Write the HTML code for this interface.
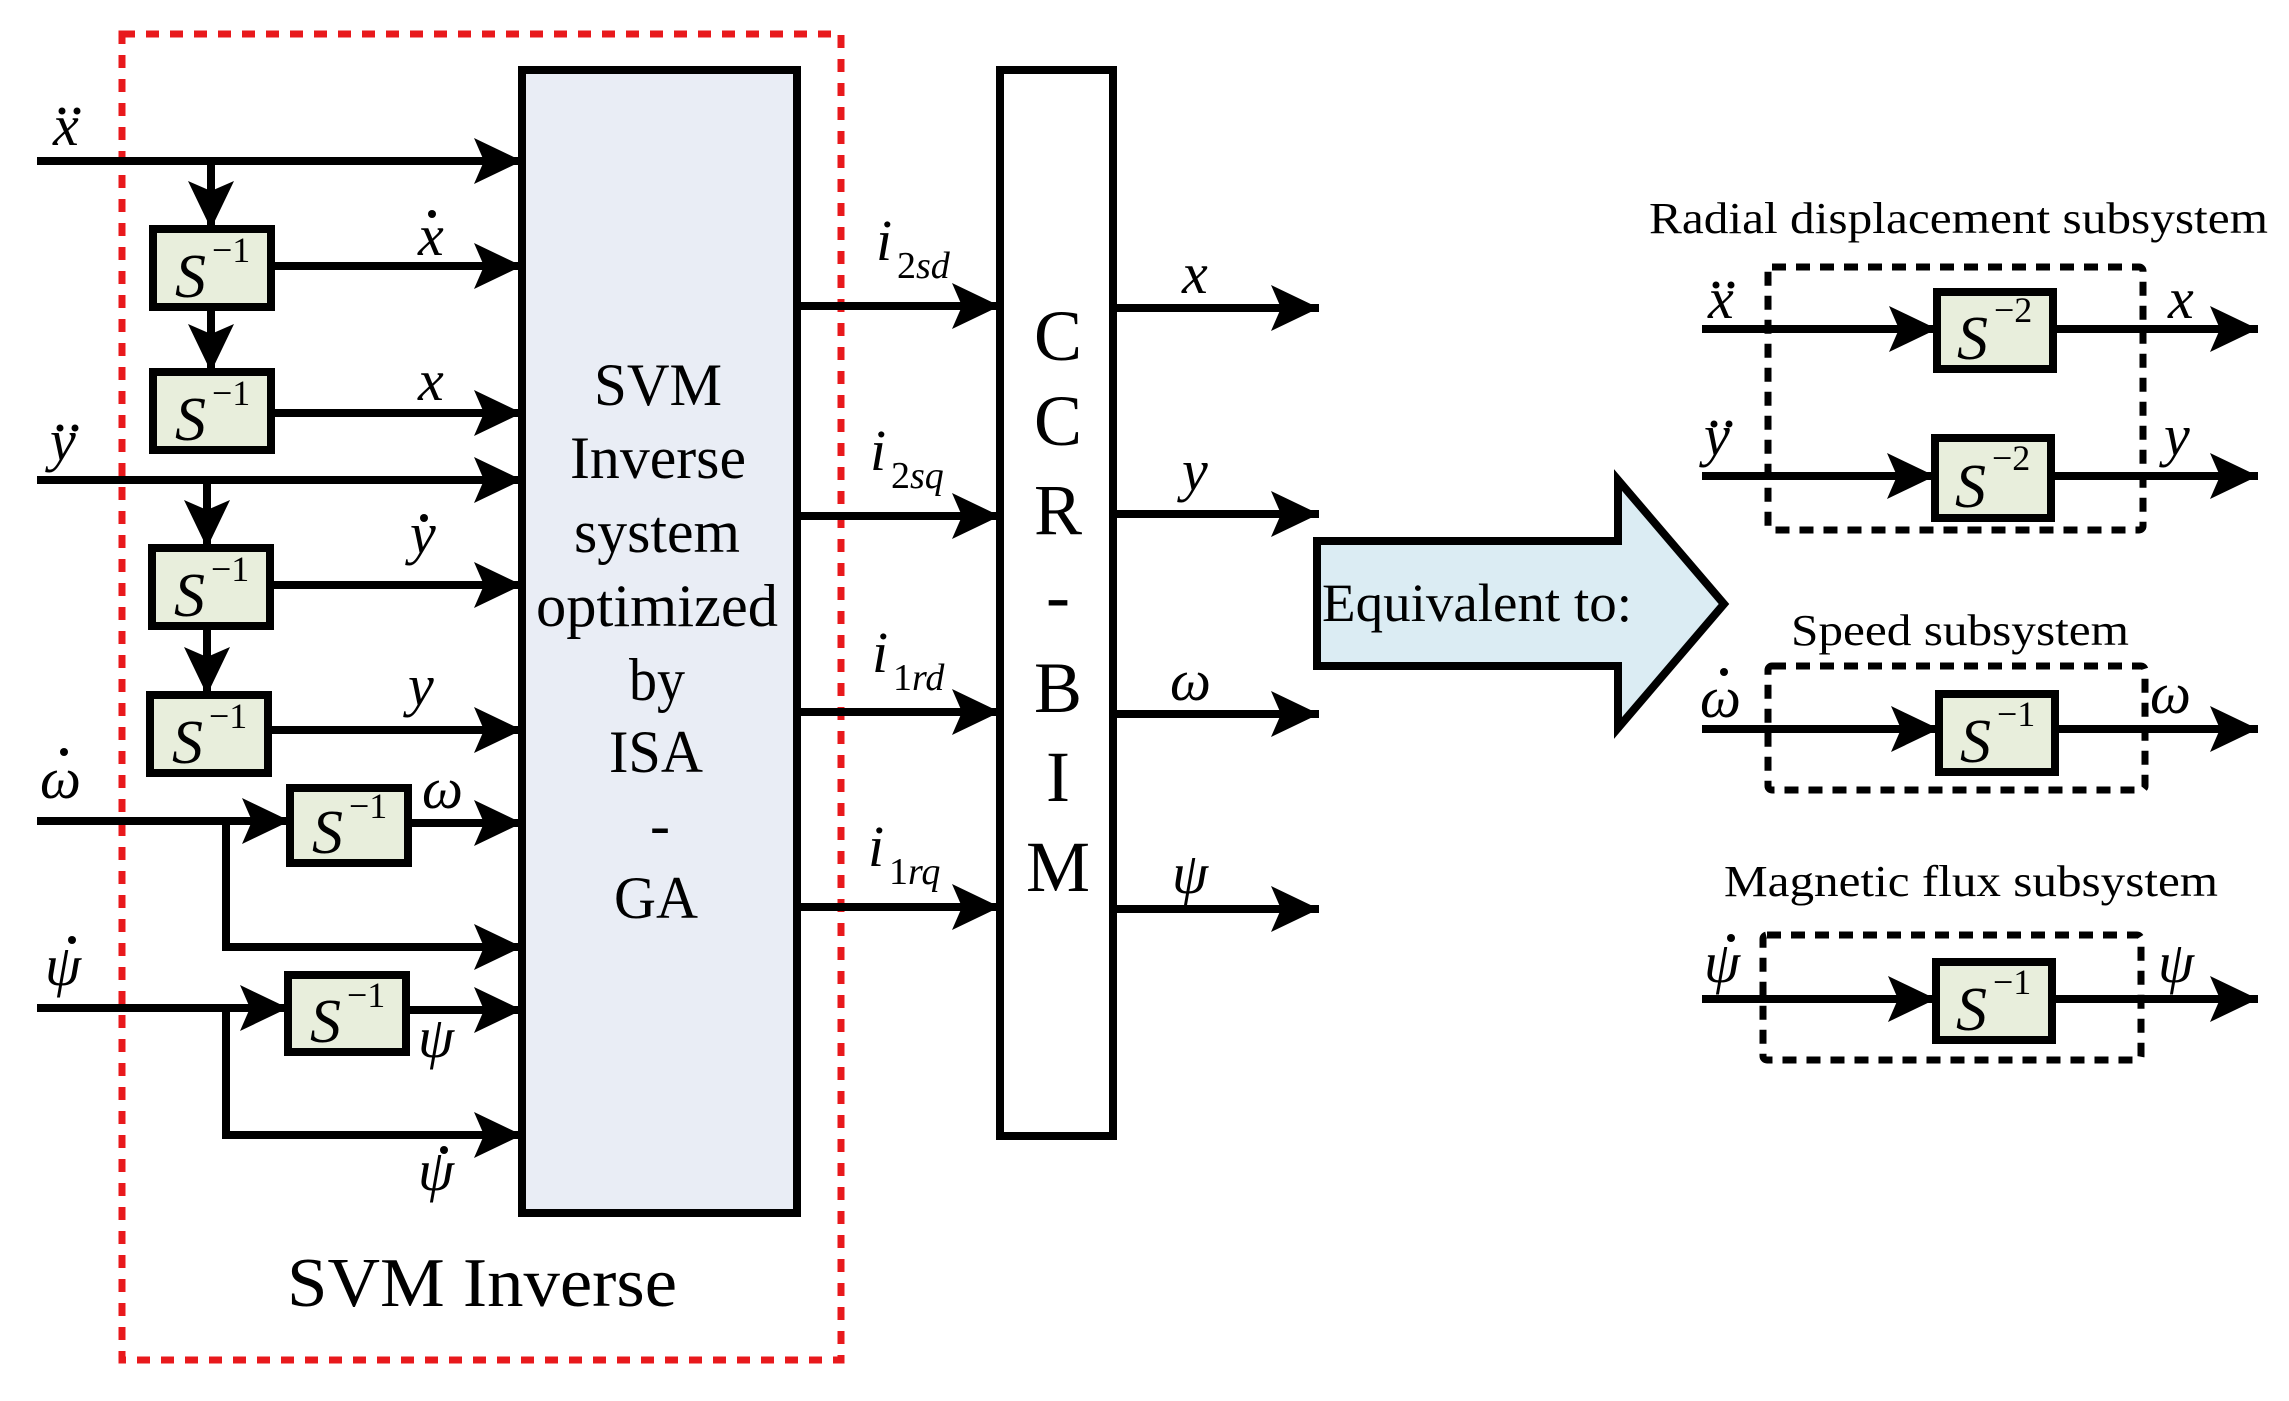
<!DOCTYPE html>
<html><head><meta charset="utf-8"><style>html,body{margin:0;padding:0;background:#fff}svg{display:block}
text{font-family:"Liberation Serif","Times New Roman",Tinos,serif;fill:#000}
.i{font-style:italic}
</style></head><body>
<svg width="2289" height="1401" viewBox="0 0 2289 1401" xmlns="http://www.w3.org/2000/svg">
<defs>
<marker id="a" markerUnits="userSpaceOnUse" markerWidth="50" markerHeight="46" refX="48" refY="23" orient="auto">
<path d="M0,0 L48,23 L0,46 L10,23 Z" fill="#000"/></marker>
</defs>
<rect x="122" y="34" width="719" height="1326" fill="none" stroke="#e8191c" stroke-width="7" stroke-dasharray="13 11"/>
<rect x="522" y="70" width="275" height="1143" fill="#e9edf5" stroke="#000" stroke-width="8"/>
<rect x="1000" y="70" width="113" height="1066" fill="#fff" stroke="#000" stroke-width="8"/>
<g fill="#e8eedc" stroke="#000" stroke-width="8">
<rect x="153" y="229" width="118" height="78"/>
<rect x="153" y="372" width="118" height="78"/>
<rect x="152" y="548" width="118" height="78"/>
<rect x="150" y="695" width="118" height="78"/>
<rect x="290" y="788" width="118" height="75"/>
<rect x="288" y="975" width="118" height="77"/>
<rect x="1937" y="292" width="116" height="77"/>
<rect x="1935" y="438" width="116" height="80"/>
<rect x="1939" y="694" width="116" height="78"/>
<rect x="1936" y="962" width="116" height="78"/>
</g>
<g stroke="#000" stroke-width="8" fill="none">
<line x1="37" y1="161" x2="522" y2="161" marker-end="url(#a)"/>
<line x1="211" y1="161" x2="211" y2="229" marker-end="url(#a)"/>
<line x1="271" y1="266" x2="522" y2="266" marker-end="url(#a)"/>
<line x1="211" y1="307" x2="211" y2="372" marker-end="url(#a)"/>
<line x1="271" y1="413" x2="522" y2="413" marker-end="url(#a)"/>
<line x1="37" y1="480" x2="522" y2="480" marker-end="url(#a)"/>
<line x1="207" y1="480" x2="207" y2="548" marker-end="url(#a)"/>
<line x1="270" y1="585" x2="522" y2="585" marker-end="url(#a)"/>
<line x1="207" y1="626" x2="207" y2="695" marker-end="url(#a)"/>
<line x1="268" y1="730" x2="522" y2="730" marker-end="url(#a)"/>
<line x1="37" y1="821" x2="290" y2="821" marker-end="url(#a)"/>
<line x1="408" y1="823" x2="522" y2="823" marker-end="url(#a)"/>
<polyline points="226,821 226,947 522,947" marker-end="url(#a)"/>
<line x1="37" y1="1008" x2="288" y2="1008" marker-end="url(#a)"/>
<line x1="406" y1="1010" x2="522" y2="1010" marker-end="url(#a)"/>
<polyline points="226,1008 226,1135 522,1135" marker-end="url(#a)"/>
<line x1="797" y1="306" x2="1000" y2="306" marker-end="url(#a)"/>
<line x1="797" y1="516" x2="1000" y2="516" marker-end="url(#a)"/>
<line x1="797" y1="712" x2="1000" y2="712" marker-end="url(#a)"/>
<line x1="797" y1="907" x2="1000" y2="907" marker-end="url(#a)"/>
<line x1="1113" y1="308" x2="1319" y2="308" marker-end="url(#a)"/>
<line x1="1113" y1="514" x2="1319" y2="514" marker-end="url(#a)"/>
<line x1="1113" y1="714" x2="1319" y2="714" marker-end="url(#a)"/>
<line x1="1113" y1="909" x2="1319" y2="909" marker-end="url(#a)"/>
<line x1="1702" y1="329" x2="1937" y2="329" marker-end="url(#a)"/>
<line x1="2053" y1="329" x2="2258" y2="329" marker-end="url(#a)"/>
<line x1="1702" y1="476" x2="1935" y2="476" marker-end="url(#a)"/>
<line x1="2051" y1="476" x2="2258" y2="476" marker-end="url(#a)"/>
<line x1="1702" y1="729" x2="1939" y2="729" marker-end="url(#a)"/>
<line x1="2055" y1="729" x2="2258" y2="729" marker-end="url(#a)"/>
<line x1="1702" y1="999" x2="1936" y2="999" marker-end="url(#a)"/>
<line x1="2052" y1="999" x2="2258" y2="999" marker-end="url(#a)"/>
</g>
<g stroke="#000" stroke-width="7" fill="none" stroke-dasharray="14 10">
<rect x="1768" y="267" width="375" height="263" rx="4"/>
<rect x="1768" y="666" width="377" height="124" rx="4"/>
<rect x="1763" y="935" width="378" height="125" rx="4"/>
</g>
<path d="M1317,541 L1618,541 L1618,480 L1724,604 L1618,728 L1618,666 L1317,666 Z" fill="#dbecf3" stroke="#000" stroke-width="8"/>
<text x="1322" y="621" font-size="54" textLength="310" lengthAdjust="spacingAndGlyphs">Equivalent to:</text>

<g font-size="62">
<text x="175" y="297" class="i">S</text><text x="212" y="262" font-size="36">−1</text>
<text x="175" y="440" class="i">S</text><text x="212" y="405" font-size="36">−1</text>
<text x="174" y="616" class="i">S</text><text x="211" y="581" font-size="36">−1</text>
<text x="172" y="763" class="i">S</text><text x="209" y="728" font-size="36">−1</text>
<text x="312" y="853" class="i">S</text><text x="349" y="818" font-size="36">−1</text>
<text x="310" y="1042" class="i">S</text><text x="347" y="1007" font-size="36">−1</text>
<text x="1957" y="359" class="i">S</text><text x="1994" y="322" font-size="36">−2</text>
<text x="1955" y="507" class="i">S</text><text x="1992" y="470" font-size="36">−2</text>
<text x="1960" y="762" class="i">S</text><text x="1997" y="726" font-size="36">−1</text>
<text x="1956" y="1030" class="i">S</text><text x="1993" y="994" font-size="36">−1</text>
</g>

<g font-size="58" font-style="italic">
<text x="53" y="145">x</text><circle cx="62" cy="111" r="3.5"/><circle cx="77" cy="111" r="3.5"/>
<text x="418" y="255">x</text><circle cx="432" cy="214" r="4"/>
<text x="418" y="400">x</text>
<text x="50" y="460">y</text><circle cx="60" cy="428" r="3.5"/><circle cx="75" cy="428" r="3.5"/>
<text x="410" y="553">y</text><circle cx="424" cy="518" r="4"/>
<text x="408" y="705">y</text>
<text x="40" y="798">ω</text><circle cx="64" cy="752" r="4"/>
<text x="422" y="808">ω</text>
<text x="45" y="985">ψ</text><circle cx="72" cy="940" r="4"/>
<text x="418" y="1057">ψ</text>
<text x="418" y="1190">ψ</text><circle cx="444" cy="1150" r="4"/>
<text x="876" y="260">i</text><text x="897" y="278" font-size="38"><tspan font-style="normal">2</tspan>sd</text>
<text x="870" y="470">i</text><text x="891" y="488" font-size="38"><tspan font-style="normal">2</tspan>sq</text>
<text x="872" y="672">i</text><text x="893" y="690" font-size="38"><tspan font-style="normal">1</tspan>rd</text>
<text x="868" y="866">i</text><text x="889" y="884" font-size="38"><tspan font-style="normal">1</tspan>rq</text>
<text x="1182" y="293">x</text>
<text x="1182" y="490">y</text>
<text x="1170" y="700">ω</text>
<text x="1172" y="893">ψ</text>
<text x="1708" y="318">x</text><circle cx="1716" cy="285" r="3.5"/><circle cx="1731" cy="285" r="3.5"/>
<text x="2168" y="318">x</text>
<text x="1704" y="455">y</text><circle cx="1714" cy="424" r="3.5"/><circle cx="1729" cy="424" r="3.5"/>
<text x="2164" y="455">y</text>
<text x="1700" y="717">ω</text><circle cx="1724" cy="672" r="4"/>
<text x="2150" y="713">ω</text>
<text x="1704" y="982">ψ</text><circle cx="1731" cy="938" r="4"/>
<text x="2158" y="982">ψ</text>
</g>

<g font-size="60">
<text x="594" y="405" textLength="128" lengthAdjust="spacingAndGlyphs">SVM</text>
<text x="570" y="478" textLength="176" lengthAdjust="spacingAndGlyphs">Inverse</text>
<text x="574" y="552" textLength="166" lengthAdjust="spacingAndGlyphs">system</text>
<text x="536" y="626" textLength="242" lengthAdjust="spacingAndGlyphs">optimized</text>
<text x="629" y="700" textLength="56" lengthAdjust="spacingAndGlyphs">by</text>
<text x="609" y="772" textLength="94" lengthAdjust="spacingAndGlyphs">ISA</text>
<text x="650" y="845">-</text>
<text x="614" y="918" textLength="84" lengthAdjust="spacingAndGlyphs">GA</text>
</g>
<g font-size="72" text-anchor="middle">
<text x="1058" y="360">C</text>
<text x="1058" y="445">C</text>
<text x="1058" y="534">R</text>
<text x="1058" y="620">-</text>
<text x="1058" y="712">B</text>
<text x="1058" y="801">I</text>
<text x="1058" y="891">M</text>
</g>
<text x="287" y="1306" font-size="70" textLength="390" lengthAdjust="spacingAndGlyphs">SVM Inverse</text>
<text x="1649" y="233" font-size="44" textLength="619" lengthAdjust="spacingAndGlyphs">Radial displacement subsystem</text>
<text x="1791" y="645" font-size="44" textLength="338" lengthAdjust="spacingAndGlyphs">Speed subsystem</text>
<text x="1724" y="896" font-size="44" textLength="494" lengthAdjust="spacingAndGlyphs">Magnetic flux subsystem</text>
</svg>
</body></html>
